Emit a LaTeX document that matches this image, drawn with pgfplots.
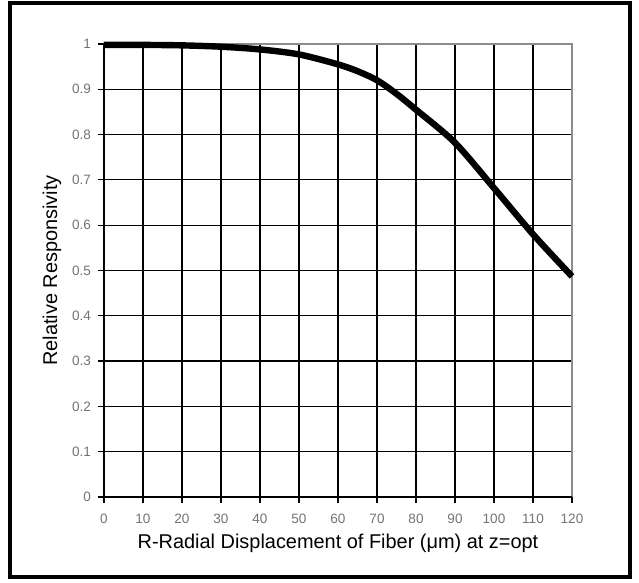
\documentclass[border=0pt]{standalone}
\usepackage{pgfplots}
\pgfplotsset{compat=1.18}
\usepackage{fontspec}
\setmainfont{Liberation Sans}

\begin{document}
\begin{tikzpicture}
\useasboundingbox (-52bp,-43bp) rectangle (267.5bp,248.5bp);
\begin{axis}[
  at={(0,0)}, anchor=south west,
  scale only axis, width=234bp, height=226.5bp,
  xmin=0, xmax=120, ymin=0, ymax=1,
  xtick={0,10,20,30,40,50,60,70,80,90,100,110,120},
  ytick={0,0.1,0.2,0.3,0.4,0.5,0.6,0.7,0.8,0.9,1},
  yticklabels={0,0.1,0.2,0.3,0.4,0.5,0.6,0.7,0.8,0.9,1},
  xtick pos=left, ytick pos=left,
  tick align=outside,
  major tick length=3bp,
  tick style={black, line width=0.6bp},
  axis line style={draw=none},
  grid=major,
  grid style={black, line width=0.6bp},
  ticklabel style={font=\fontsize{6.8}{8}\selectfont, text=black!55},
  xticklabel style={yshift=-2bp},
  /pgf/number format/assume math mode=true,
  label style={font=\fontsize{10}{12}\selectfont},
  xlabel={R-Radial Displacement of Fiber (μm) at z=opt},
  ylabel={Relative Responsivity},
  xlabel style={at={(axis description cs:0.5,-0.102)}, anchor=center},
  ylabel style={at={(axis description cs:-0.111,0.5)}, anchor=center},
  clip=false,
]
\draw[black!45, line width=1bp] (rel axis cs:0,1) -- (rel axis cs:1,1) -- (rel axis cs:1,0);
\addplot[black, line width=3.2bp, smooth, tension=0.5, mark=none] coordinates {
  (0,0.998) (10,0.998) (20,0.997) (30,0.994) (40,0.988) (50,0.977)
  (60,0.955) (65,0.94) (70,0.92) (75,0.89) (80,0.855) (90,0.782)
  (100,0.682) (110,0.58) (120,0.487)
};
\draw[black, line width=1.3bp] (rel axis cs:0,1) -- (rel axis cs:0,0) -- (rel axis cs:1,0);
\end{axis}
\draw[black, line width=1.6bp] (-47bp,-40bp) rectangle (263bp,247bp);
\end{tikzpicture}
\end{document}
